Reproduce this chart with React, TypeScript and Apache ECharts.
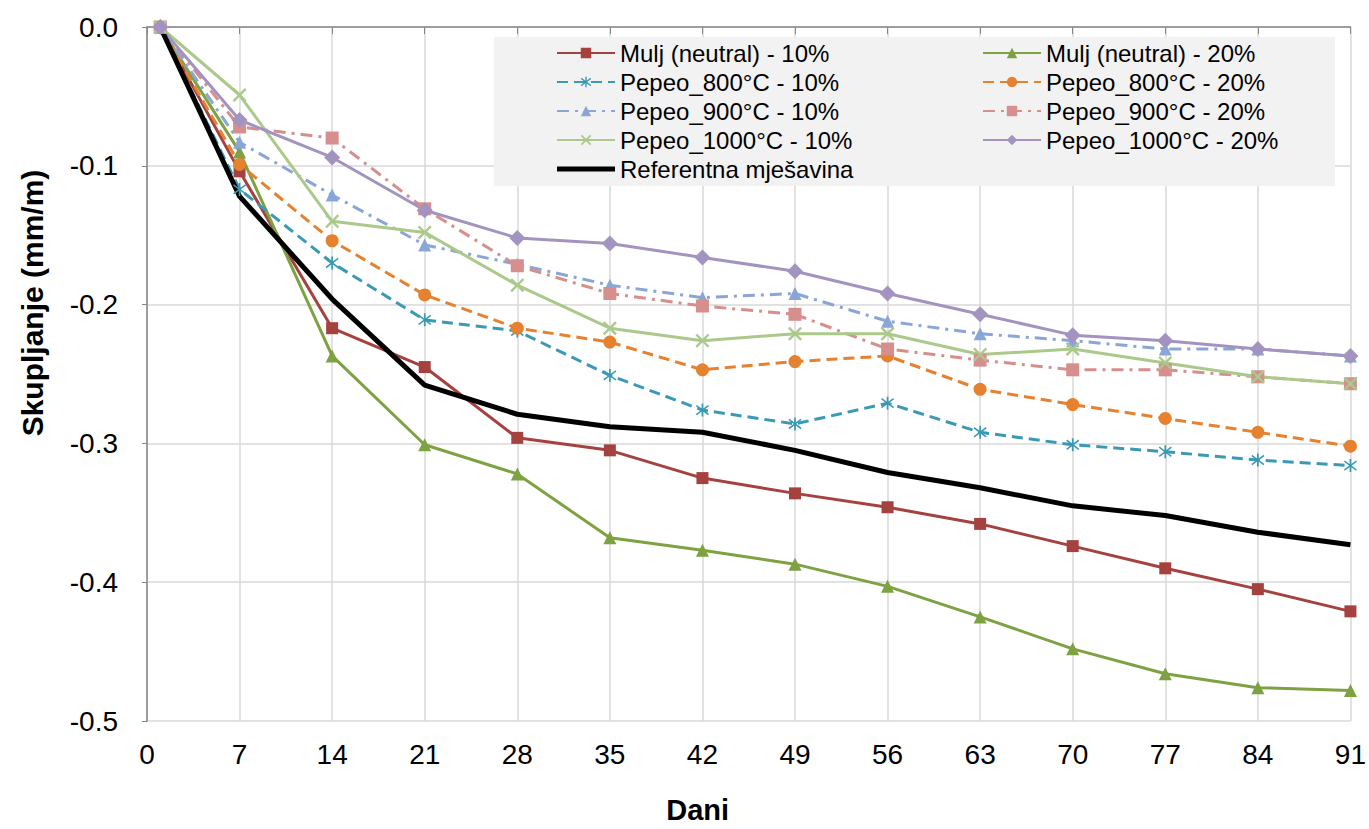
import React, { useEffect, useRef } from "react";
import * as echarts from "echarts";

const days = [1, 7, 14, 21, 28, 35, 42, 49, 56, 63, 70, 77, 84, 91];
const xTicks = [0, 7, 14, 21, 28, 35, 42, 49, 56, 63, 70, 77, 84, 91];
const yTicks = [0, -0.1, -0.2, -0.3, -0.4, -0.5];

const mulj10 = [0, -0.104, -0.217, -0.245, -0.296, -0.305, -0.325, -0.336, -0.346, -0.358, -0.374, -0.39, -0.405, -0.421];
const mulj20 = [0, -0.09, -0.237, -0.301, -0.322, -0.368, -0.377, -0.387, -0.403, -0.425, -0.448, -0.466, -0.476, -0.478];
const p800_10 = [0, -0.117, -0.17, -0.211, -0.219, -0.251, -0.276, -0.286, -0.271, -0.292, -0.301, -0.306, -0.312, -0.316];
const p800_20 = [0, -0.099, -0.154, -0.193, -0.217, -0.227, -0.247, -0.241, -0.237, -0.261, -0.272, -0.282, -0.292, -0.302];
const p900_10 = [0, -0.083, -0.121, -0.157, -0.171, -0.186, -0.195, -0.192, -0.212, -0.221, -0.226, -0.232, -0.232, -0.237];
const p900_20 = [0, -0.072, -0.08, -0.131, -0.172, -0.192, -0.201, -0.207, -0.232, -0.24, -0.247, -0.247, -0.252, -0.257];
const p1000_10 = [0, -0.049, -0.14, -0.148, -0.186, -0.217, -0.226, -0.221, -0.221, -0.236, -0.232, -0.242, -0.252, -0.257];
const p1000_20 = [0, -0.067, -0.094, -0.132, -0.152, -0.156, -0.166, -0.176, -0.192, -0.207, -0.222, -0.226, -0.232, -0.237];
const referentna = [0, -0.122, -0.196, -0.258, -0.279, -0.288, -0.292, -0.305, -0.321, -0.332, -0.345, -0.352, -0.364, -0.373];

const names = [
  "Mulj (neutral) - 10%",
  "Mulj (neutral) - 20%",
  "Pepeo_800°C - 10%",
  "Pepeo_800°C - 20%",
  "Pepeo_900°C - 10%",
  "Pepeo_900°C - 20%",
  "Pepeo_1000°C - 10%",
  "Pepeo_1000°C - 20%",
  "Referentna mješavina",
];

const ASTERISK =
  "path://M4.4,0 L5.6,0 L5.6,10 L4.4,10 Z M0.4,2 L1,1 L9.6,8 L9,9 Z M0.4,8 L9,1 L9.6,2 L1,9 Z";
const CROSS =
  "path://M0,1.2 L1.2,0 L5,3.8 L8.8,0 L10,1.2 L6.2,5 L10,8.8 L8.8,10 L5,6.2 L1.2,10 L0,8.8 L3.8,5 Z";
const BAR_ICON = "path://M0,0 L58,0 L58,5 L0,5 Z";

const FONT = "'Liberation Sans', Arial, sans-serif";

function pairs(vals: number[]) {
  return days.map((d, i) => [d, vals[i]]);
}

export default function App() {
  const ref = useRef<HTMLDivElement>(null);

  useEffect(() => {
    if (!ref.current) return;
    const chart = echarts.init(ref.current, undefined, { renderer: "svg" });

    const DASH = [11, 6];
    const DASHDOT = [12, 6, 3, 6];

    const mk = (
      name: string,
      vals: number[],
      color: string,
      symbol: string,
      symbolSize: number,
      type: any,
      width = 3
    ) => ({
      name,
      type: "line",
      data: pairs(vals),
      symbol,
      symbolSize,
      showSymbol: symbol !== "none",
      itemStyle: { color },
      lineStyle: { color, width, type },
      emphasis: { disabled: true },
    });

    const series = [
      mk(names[0], mulj10, "#A5423F", "rect", 12, "solid"),
      mk(names[1], mulj20, "#7EA142", "triangle", 13, "solid"),
      mk(names[2], p800_10, "#3A9AB5", ASTERISK, 13, DASH),
      mk(names[3], p800_20, "#E5812F", "circle", 13, DASH),
      mk(names[4], p900_10, "#8AA6D6", "triangle", 13, DASHDOT),
      mk(names[5], p900_20, "#D68F8C", "rect", 13, DASHDOT),
      mk(names[6], p1000_10, "#AAC98A", CROSS, 14, "solid"),
      mk(names[7], p1000_20, "#A393C0", "diamond", 16, "solid"),
      mk(names[8], referentna, "#000000", "none", 0, "solid", 5),
    ];

    const legendCommon = {
      orient: "vertical",
      itemWidth: 58,
      itemHeight: 13,
      itemGap: 5,
      selectedMode: false,
      symbolKeepAspect: true,
      textStyle: { fontSize: 24, lineHeight: 24, color: "#000", fontFamily: FONT },
      padding: 0,
    };

    chart.setOption({
      animation: false,
      textStyle: { fontFamily: FONT },
      graphic: [
        {
          type: "rect",
          left: 494,
          top: 37,
          z: 1,
          shape: { width: 841, height: 149 },
          style: { fill: "#f2f2f2" },
          silent: true,
        },
      ],
      legend: [
        {
          ...legendCommon,
          left: 556,
          top: 41,
          data: [
            names[0],
            names[2],
            names[4],
            names[6],
            { name: names[8], icon: BAR_ICON, itemStyle: { color: "#000" } },
          ],
        },
        {
          ...legendCommon,
          left: 982,
          top: 41,
          data: [names[1], names[3], names[5], names[7]],
        },
      ],
      grid: { left: 147, right: 18, top: 27, bottom: 103, containLabel: false },
      xAxis: {
        type: "value",
        min: xTicks[0],
        max: xTicks[xTicks.length - 1],
        interval: 7,
        name: "Dani",
        nameLocation: "middle",
        nameGap: 74,
        nameTextStyle: {
          fontSize: 29,
          fontWeight: "bold",
          color: "#000",
          fontFamily: FONT,
          padding: [0, 102, 0, 0],
        },
        axisLine: { show: true, lineStyle: { color: "#868686", width: 1.5 } },
        axisTick: { show: true, length: 7, lineStyle: { color: "#868686" } },
        axisLabel: { fontSize: 28, color: "#000", margin: 19, fontFamily: FONT },
        splitLine: { show: true, lineStyle: { color: "#d9d9d9", width: 1.5 } },
      },
      yAxis: {
        type: "value",
        min: yTicks[yTicks.length - 1],
        max: yTicks[0],
        interval: 0.1,
        name: "Skupljanje (mm/m)",
        nameLocation: "middle",
        nameGap: 100,
        nameTextStyle: {
          fontSize: 30,
          fontWeight: "bold",
          color: "#000",
          fontFamily: FONT,
          padding: [0, 0, 0, 142],
        },
        axisLine: { show: true, lineStyle: { color: "#868686", width: 1.5 } },
        axisTick: { show: true, length: 5, lineStyle: { color: "#868686" } },
        axisLabel: {
          fontSize: 28,
          color: "#000",
          margin: 29,
          fontFamily: FONT,
          formatter: (v: number) => v.toFixed(1),
        },
        splitLine: { show: true, lineStyle: { color: "#d9d9d9", width: 1.5 } },
      },
      series,
    });

    return () => chart.dispose();
  }, []);

  return (
    <div
      ref={ref}
      style={{ position: "absolute", left: 0, top: 0, width: 1369, height: 829 }}
    />
  );
}
